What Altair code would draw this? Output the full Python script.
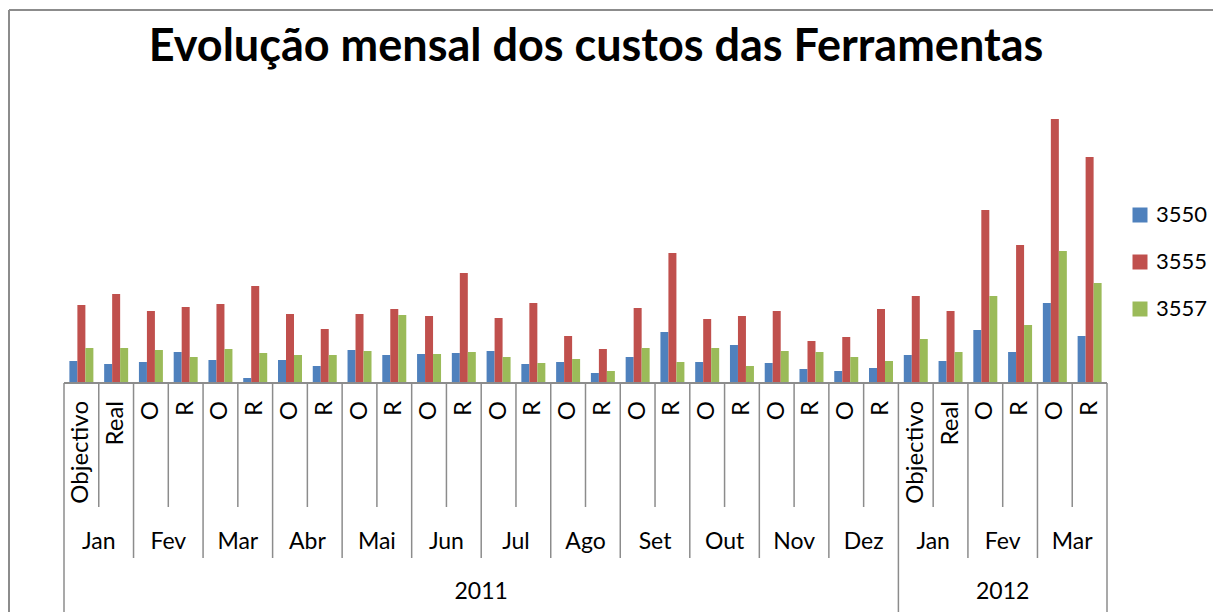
import altair as alt
import pandas as pd

# ---- data ----
months = ["Jan", "Fev", "Mar", "Abr", "Mai", "Jun", "Jul", "Ago", "Set", "Out", "Nov", "Dez", "Jan", "Fev", "Mar"]
years = ["2011"] * 12 + ["2012"] * 3
sub_labels = ["Objectivo", "Real"] + ["O", "R"] * 11 + ["Objectivo", "Real"] + ["O", "R"] * 2

series_names = ["3550", "3555", "3557"]
s3550 = [22, 19, 21, 31, 23, 5, 23, 17, 33, 28, 29, 30, 32, 19, 21, 10, 26, 51, 21, 38, 20, 14, 12, 15, 28, 22, 53, 31, 80, 47]
s3555 = [78, 89, 72, 76, 79, 97, 69, 54, 69, 74, 67, 110, 65, 80, 47, 34, 75, 130, 64, 67, 72, 42, 46, 74, 87, 72, 173, 138, 264, 226]
s3557 = [35, 35, 33, 26, 34, 30, 28, 28, 32, 68, 29, 31, 26, 20, 24, 12, 35, 21, 35, 17, 32, 31, 26, 22, 44, 31, 87, 58, 132, 100]
colors = ["#4F81BD", "#C0504D", "#9BBB59"]
title_text = "Evolução mensal dos custos das Ferramentas"

FONT = "Lato"
GRAY = "#8C8C8C"
W, H = 1043, 283
n = len(sub_labels)

# ---- tables built from the arrays ----
rows = []
for i in range(n):
    for name, vals in zip(series_names, [s3550, s3555, s3557]):
        rows.append({"idx": i, "series": name, "value": vals[i]})
bars_df = pd.DataFrame(rows)

cat_df = pd.DataFrame({"pos": [i + 0.5 for i in range(n)], "label": sub_labels})
inner_df = pd.DataFrame({"pos": [2 * k + 1 for k in range(len(months))]})
month_df = pd.DataFrame({"pos": [2 * k + 1 for k in range(len(months))], "label": months})

year_bounds = [0] + [2 * k for k in range(1, len(months)) if years[k] != years[k - 1]] + [n]
month_bounds = [2 * k for k in range(len(months) + 1) if 2 * k not in year_bounds]
msep_df = pd.DataFrame({"pos": month_bounds})
ysep_df = pd.DataFrame({"pos": year_bounds})
uniq_years = list(dict.fromkeys(years))
year_df = pd.DataFrame({
    "pos": [(year_bounds[j] + year_bounds[j + 1]) / 2 for j in range(len(uniq_years))],
    "label": uniq_years,
})
title_df = pd.DataFrame({"t": [title_text]})

xq = alt.Scale(domain=[0, n], nice=False, zero=False)

bars = alt.Chart(bars_df).mark_bar().encode(
    x=alt.X("idx:O", scale=alt.Scale(paddingInner=0.31, paddingOuter=0.155), axis=None),
    xOffset=alt.XOffset("series:N", sort=series_names, scale=alt.Scale(paddingInner=0, paddingOuter=0)),
    y=alt.Y("value:Q", scale=alt.Scale(domain=[0, H], nice=False), axis=None),
    color=alt.Color(
        "series:N",
        sort=series_names,
        scale=alt.Scale(domain=series_names, range=colors),
        legend=alt.Legend(
            title=None, orient="none", legendX=1065, legendY=104,
            symbolType="square", symbolSize=225, symbolStrokeWidth=0,
            labelFont=FONT, labelFontSize=22, labelColor="black",
            rowPadding=25, padding=0, labelOffset=5,
        ),
    ),
)

axis_line = alt.Chart(title_df).mark_rule(color=GRAY, strokeWidth=2).encode(
    x=alt.value(0), x2=alt.value(W), y=alt.value(H)
)

inner_sep = alt.Chart(inner_df).mark_rule(color=GRAY, strokeWidth=1.5).encode(
    x=alt.X("pos:Q", scale=xq, axis=None), y=alt.value(H), y2=alt.value(407)
)
month_sep = alt.Chart(msep_df).mark_rule(color=GRAY, strokeWidth=1.5).encode(
    x=alt.X("pos:Q", scale=xq, axis=None), y=alt.value(H), y2=alt.value(458)
)
year_sep = alt.Chart(ysep_df).mark_rule(color=GRAY, strokeWidth=1.5).encode(
    x=alt.X("pos:Q", scale=xq, axis=None), y=alt.value(H), y2=alt.value(520)
)

sub_text = alt.Chart(cat_df).mark_text(
    font=FONT, fontSize=24, angle=270, align="right", baseline="middle", color="black"
).encode(x=alt.X("pos:Q", scale=xq, axis=None), y=alt.value(301), text="label:N")

month_text = alt.Chart(month_df).mark_text(
    font=FONT, fontSize=23, align="center", baseline="middle", color="black"
).encode(x=alt.X("pos:Q", scale=xq, axis=None), y=alt.value(442), text="label:N")

year_text = alt.Chart(year_df).mark_text(
    font=FONT, fontSize=23, align="center", baseline="middle", color="black"
).encode(x=alt.X("pos:Q", scale=xq, axis=None), y=alt.value(492), text="label:N")

border_left = alt.Chart(title_df).mark_rule(color=GRAY, strokeWidth=2).encode(
    x=alt.value(-55), y=alt.value(-90), y2=alt.value(520)
)
border_top = alt.Chart(title_df).mark_rule(color=GRAY, strokeWidth=2).encode(
    x=alt.value(-55), x2=alt.value(1160), y=alt.value(-90)
)

title = alt.Chart(title_df).mark_text(
    font=FONT, fontSize=45, fontWeight="bold", align="center", baseline="alphabetic", color="black"
).encode(x=alt.value(532), y=alt.value(-39), text="t:N")

chart = alt.layer(
    bars, axis_line, inner_sep, month_sep, year_sep, sub_text, month_text, year_text,
    border_left, border_top, title,
).resolve_scale(x="independent").properties(
    width=W, height=H,
    autosize=alt.AutoSizeParams(type="none"),
    padding={"left": 56, "top": 92, "right": 106, "bottom": 229},
).configure(
    background="white",
    view=alt.ViewConfig(strokeWidth=0, stroke="transparent"),
)

chart.save("out.html", embed_options={"renderer": "svg", "actions": False})
